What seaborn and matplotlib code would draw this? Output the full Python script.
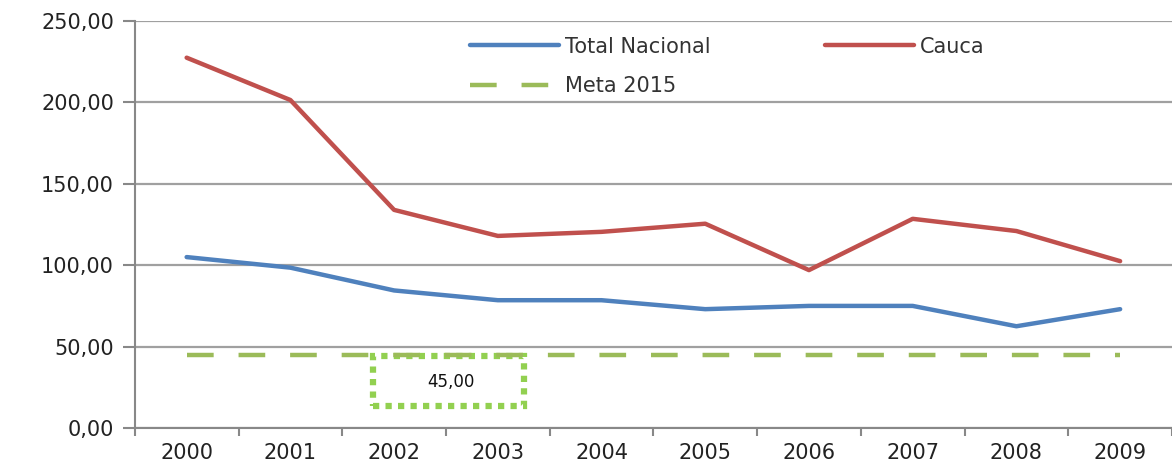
import numpy as np
import pandas as pd
import seaborn as sns
import matplotlib.pyplot as plt
from matplotlib.ticker import FuncFormatter, FixedLocator

years = ['2000', '2001', '2002', '2003', '2004', '2005', '2006', '2007', '2008', '2009']
total_nacional = [105.0, 98.5, 84.5, 78.5, 78.5, 73.0, 75.0, 75.0, 62.5, 73.0]
cauca = [227.5, 201.5, 134.0, 118.0, 120.5, 125.5, 97.0, 128.5, 121.0, 102.5]
meta_2015 = [45.0] * len(years)
series_names = ['Total Nacional', 'Cauca', 'Meta 2015']
palette = {'Total Nacional': '#4F81BD', 'Cauca': '#C0504D', 'Meta 2015': '#9BBB59'}

df = pd.DataFrame({'Año': years, 'Total Nacional': total_nacional,
                   'Cauca': cauca, 'Meta 2015': meta_2015})
df['x'] = np.arange(len(years))
df_long = df.melt(id_vars=['Año', 'x'], value_vars=series_names,
                  var_name='Serie', value_name='Valor')

sns.set_style('white')
plt.rcParams['font.family'] = ['DejaVu Sans']

fig = plt.figure(figsize=(11.72, 4.68), dpi=100)
ax = fig.add_axes([0.115, 0.0855, 0.885, 0.8695])

sns.lineplot(data=df_long, x='x', y='Valor', hue='Serie', style='Serie',
             hue_order=series_names, style_order=series_names,
             palette=palette, dashes={'Total Nacional': '', 'Cauca': '',
                                      'Meta 2015': (6.0, 5.6)},
             linewidth=3.2, ax=ax, legend=True)

ax.set_xlim(-0.5, 9.5)
ax.set_ylim(0, 250)
ax.set_yticks(np.arange(0, 251, 50))
ax.yaxis.set_major_formatter(FuncFormatter(lambda v, p: f"{v:.2f}".replace('.', ',')))
ax.set_xticks(df['x'])
ax.set_xticklabels(years)
ax.xaxis.set_minor_locator(FixedLocator(np.arange(-0.5, 9.6, 1.0)))
ax.tick_params(left=True, bottom=True)
ax.tick_params(axis='x', which='minor', bottom=True, length=6, width=1.5,
               color='#888888', direction='out')
ax.tick_params(axis='x', which='major', length=0, labelsize=15, pad=11,
               labelcolor='#222222')
ax.tick_params(axis='y', length=9, width=1.5, color='#888888', labelsize=15, pad=6,
               labelcolor='#222222', direction='out')
ax.yaxis.grid(True, color='#A0A0A0', linewidth=1.6)
ax.set_axisbelow(True)
for s in ['top', 'right']:
    ax.spines[s].set_visible(False)
for s in ['left', 'bottom']:
    ax.spines[s].set_color('#888888')
    ax.spines[s].set_linewidth(1.5)
ax.set_xlabel('')
ax.set_ylabel('')

handles, labels = ax.get_legend_handles_labels()
order = [labels.index(n) for n in ['Total Nacional', 'Meta 2015', 'Cauca']]
leg = ax.legend([handles[i] for i in order], [labels[i] for i in order],
                ncol=2, frameon=False, fontsize=15,
                loc='upper left', bbox_to_anchor=(0.323, 0.962),
                borderaxespad=0, borderpad=0,
                handlelength=4.3, handletextpad=0.25, columnspacing=5.5,
                labelspacing=0.95)
for t in leg.get_texts():
    t.set_color('#333333')

ax.text(2.55, 28.5, '45,00', ha='center', va='center', fontsize=12, color='#111111')
rect = plt.Rectangle((1.80, 13.5), 1.45, 30.5, fill=False, edgecolor='#92D050',
                     linewidth=4.5, linestyle=(0, (1, 1)))
ax.add_patch(rect)

plt.savefig('out.png', dpi=100)
plt.close()
